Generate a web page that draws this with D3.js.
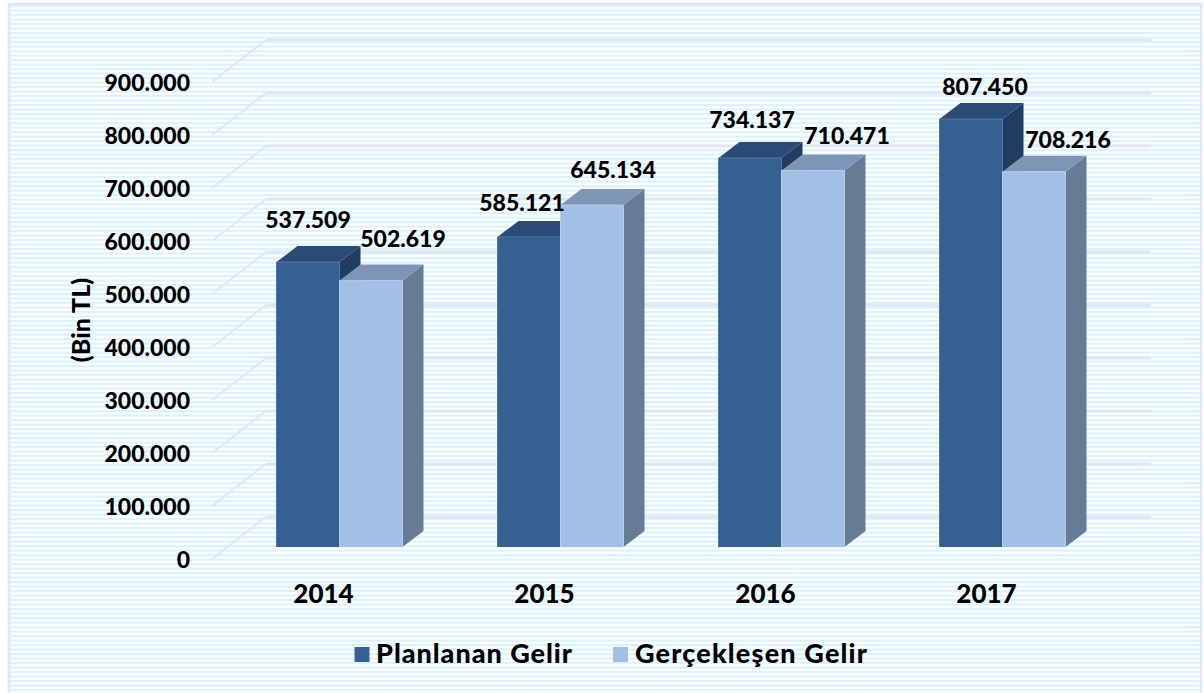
<!DOCTYPE html>
<html><head><meta charset="utf-8">
<script src="https://cdn.jsdelivr.net/npm/d3@7"></script>
<style>html,body{margin:0;padding:0;background:#fff}svg{display:block}text{font-family:"Lato","Open Sans",sans-serif;font-weight:900;fill:#000}</style>
</head><body>
<script>
const years = ["2014","2015","2016","2017"];
const planned = [537509,585121,734137,807450];
const actual = [502619,645134,710471,708216];
const plannedLabels = ["537.509","585.121","734.137","807.450"];
const actualLabels = ["502.619","645.134","710.471","708.216"];
const seriesNames = ["Planlanan Gelir","Gerçekleşen Gelir"];
const ticks = [0,100000,200000,300000,400000,500000,600000,700000,800000,900000];

const W=1204,H=693;
const svg=d3.select("body").append("svg").attr("width",W).attr("height",H);
const defs=svg.append("defs");
const pat=defs.append("pattern").attr("id","st").attr("patternUnits","userSpaceOnUse").attr("width",8).attr("height",4.5).attr("y",5);
pat.append("rect").attr("width",8).attr("height",4.5).attr("fill","#fff");
pat.append("rect").attr("width",8).attr("height",2.25).attr("fill","#d9f3fd");
svg.append("rect").attr("x",9).attr("y",4).attr("width",1192).attr("height",690).attr("fill","url(#st)").attr("stroke","#dce8f4").attr("stroke-width",2.5);

const y=d3.scaleLinear().domain([0,900000]).range([559,82]);
const x=d3.scaleBand().domain(years).range([229,1113]).paddingInner(0).paddingOuter(0);
const barW=63, gdx=54, gdy=-42, bdx=21, bdy=-16, base=547;
const h=v=>y(0)-y(v);
const cx=d=>x(d)+x.bandwidth()/2;

const grid=svg.append("g").attr("fill","none").attr("stroke","#dfe7f3");
ticks.forEach(t=>{
  grid.append("path").attr("stroke-width",2).attr("d",d3.line()([[212,y(t)],[212+gdx,y(t)+gdy]]));
  grid.append("path").attr("stroke-width",3).attr("d",d3.line()([[212+gdx,y(t)+gdy],[1151,y(t)+gdy]]));
});

const series=[
 {vals:planned,labels:plannedLabels,off:-barW,front:"#366092",top:"#2b4a75",side:"#203d5f",stroke:"#4f76a6"},
 {vals:actual,labels:actualLabels,off:0,front:"#a2c0e6",top:"#7e95b5",side:"#667b94",stroke:"#b4cdec"}
];
const labelPos=[[[308,228],[403,247]],[[522,211],[613,178]],[[752,128],[847,144]],[[985,95],[1068,148]]];

years.forEach((yr,i)=>{
  series.forEach((s,k)=>{
    const x0=cx(yr)+s.off, x1=x0+barW, yt=base-h(s.vals[i]);
    const g=svg.append("g");
    g.append("path").attr("fill",s.side).attr("d",d3.line()([[x1,yt],[x1+bdx,yt+bdy],[x1+bdx,base+bdy],[x1,base]])+"Z");
    g.append("path").attr("fill",s.top).attr("d",d3.line()([[x0,yt],[x0+bdx,yt+bdy],[x1+bdx,yt+bdy],[x1,yt]])+"Z");
    g.append("rect").attr("x",x0).attr("y",yt).attr("width",barW).attr("height",base-yt).attr("fill",s.front);
    g.append("path").attr("fill","none").attr("stroke",s.stroke).attr("stroke-width",1).attr("d",d3.line()([[x0,base],[x0,yt],[x1,yt],[x1,base]]));
  });
});
years.forEach((yr,i)=>{
  series.forEach((s,k)=>{
    const p=labelPos[i][k];
    svg.append("text").attr("x",p[0]).attr("y",p[1]).attr("text-anchor","middle").attr("font-size",23).text(s.labels[i]);
  });
  svg.append("text").attr("x",cx(yr)-16).attr("y",603).attr("text-anchor","middle").attr("font-size",26).text(yr);
});
ticks.forEach(t=>{
  svg.append("text").attr("x",190).attr("y",y(t)+9).attr("text-anchor","end").attr("font-size",23).text(t===0?"0":d3.format(",")(t).replace(/,/g,"."));
});
svg.append("text").attr("transform","translate(90,320) rotate(-90)").attr("text-anchor","middle").attr("font-size",25).text("(Bin TL)");

const lg=[[354.5,376,196],[613,635,232]];
series.forEach((s,k)=>{
  svg.append("rect").attr("x",lg[k][0]).attr("y",647).attr("width",15).attr("height",15).attr("fill",s.front);
  svg.append("text").attr("x",lg[k][1]).attr("y",663).attr("font-size",27).attr("textLength",lg[k][2]).attr("lengthAdjust","spacing").text(seriesNames[k]);
});
</script>
</body></html>
